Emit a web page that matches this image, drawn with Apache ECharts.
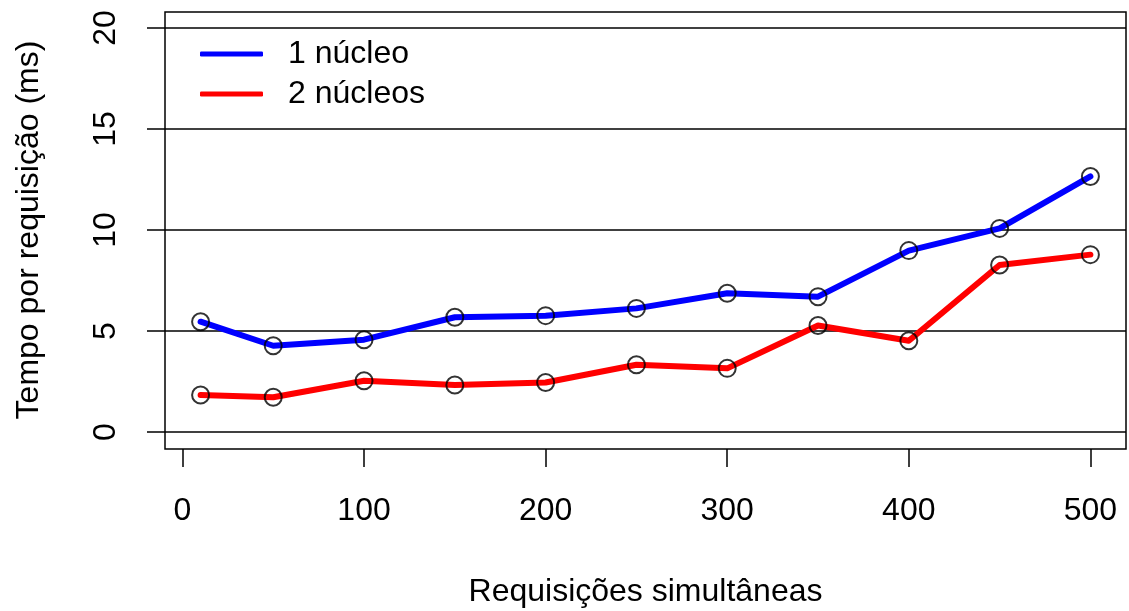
<!DOCTYPE html>
<html>
<head>
<meta charset="utf-8">
<script src="https://cdn.jsdelivr.net/npm/echarts@6/dist/echarts.min.js"></script>
<style>html,body{margin:0;padding:0;background:#fff}#c{width:1129px;height:611px}</style>
</head>
<body>
<div id="c"></div>
<script>
const requisicoes = [10, 50, 100, 150, 200, 250, 300, 350, 400, 450, 500];
const umNucleo = [5.46, 4.27, 4.57, 5.68, 5.76, 6.12, 6.87, 6.70, 8.98, 10.08, 12.65];
const doisNucleos = [1.83, 1.72, 2.54, 2.33, 2.45, 3.33, 3.15, 5.27, 4.52, 8.27, 8.78];
const xTicks = [0, 100, 200, 300, 400, 500];
const seriesNames = ['1 núcleo', '2 núcleos'];

const font = 'Liberation Sans, Arial, Helvetica, sans-serif';
const pair = (xs, ys) => xs.map((x, i) => [x, ys[i]]);

const chart = echarts.init(document.getElementById('c'), null, {renderer: 'canvas'});
chart.setOption({
  animation: false,
  backgroundColor: '#ffffff',
  textStyle: {fontFamily: font},
  grid: [
    {left: 165, right: 3, top: 28, bottom: 179, containLabel: false, outerBoundsMode: 'none'},
    {left: 165, right: 3, top: 12, bottom: 162, show: true, borderColor: '#000', borderWidth: 1.5, backgroundColor: 'transparent', outerBoundsMode: 'none'}
  ],
  legend: {
    orient: 'vertical',
    left: 195, top: 33,
    itemWidth: 63, itemHeight: 5, itemGap: 8,
    icon: 'roundRect',
    textStyle: {fontSize: 32, lineHeight: 32, color: '#000', fontFamily: font, padding: [0, 0, 0, 20]},
    data: [
      {name: seriesNames[0], itemStyle: {color: '#0000ff'}},
      {name: seriesNames[1], itemStyle: {color: '#ff0000'}}
    ]
  },
  xAxis: [
    {
      type: 'value', gridIndex: 0, min: -9.6, max: 519.6,
      offset: 17,
      axisLine: {show: false, onZero: false},
      axisTick: {show: true, inside: false, length: 18, customValues: xTicks, lineStyle: {color: '#000', width: 1.5}},
      axisLabel: {customValues: xTicks, fontSize: 32, color: '#000', margin: 46, fontFamily: font},
      splitLine: {show: false},
      name: 'Requisições simultâneas', nameLocation: 'middle', nameGap: 127,
      nameTextStyle: {fontSize: 32, color: '#000', fontFamily: font}
    },
    {type: 'value', gridIndex: 1, show: false}
  ],
  yAxis: [
    {
      type: 'value', gridIndex: 0, min: 0, max: 20, interval: 5,
      axisLine: {show: false, onZero: false},
      axisTick: {show: true, inside: false, length: 18, lineStyle: {color: '#000', width: 1.5}},
      axisLabel: {rotate: 90, fontSize: 32, color: '#000', margin: 43, fontFamily: font},
      splitLine: {show: true, lineStyle: {color: '#000', width: 1.5}},
      name: 'Tempo por requisição (ms)', nameLocation: 'middle', nameGap: 120,
      nameTextStyle: {fontSize: 32, color: '#000', fontFamily: font}
    },
    {type: 'value', gridIndex: 1, show: false}
  ],
  series: [
    {
      name: seriesNames[0], type: 'line', xAxisIndex: 0, yAxisIndex: 0,
      data: pair(requisicoes, umNucleo), symbol: 'none',
      lineStyle: {color: '#0000ff', width: 6, cap: 'round', join: 'round'}, itemStyle: {color: '#0000ff'}, z: 3
    },
    {
      name: seriesNames[1], type: 'line', xAxisIndex: 0, yAxisIndex: 0,
      data: pair(requisicoes, doisNucleos), symbol: 'none',
      lineStyle: {color: '#ff0000', width: 6, cap: 'round', join: 'round'}, itemStyle: {color: '#ff0000'}, z: 3
    },
    {
      type: 'scatter', xAxisIndex: 0, yAxisIndex: 0, data: pair(requisicoes, umNucleo),
      symbol: 'circle', symbolSize: 17,
      itemStyle: {color: 'transparent', borderColor: '#000', borderWidth: 2}, z: 4, silent: true
    },
    {
      type: 'scatter', xAxisIndex: 0, yAxisIndex: 0, data: pair(requisicoes, doisNucleos),
      symbol: 'circle', symbolSize: 17,
      itemStyle: {color: 'transparent', borderColor: '#000', borderWidth: 2}, z: 4, silent: true
    }
  ]
});
</script>
</body>
</html>
